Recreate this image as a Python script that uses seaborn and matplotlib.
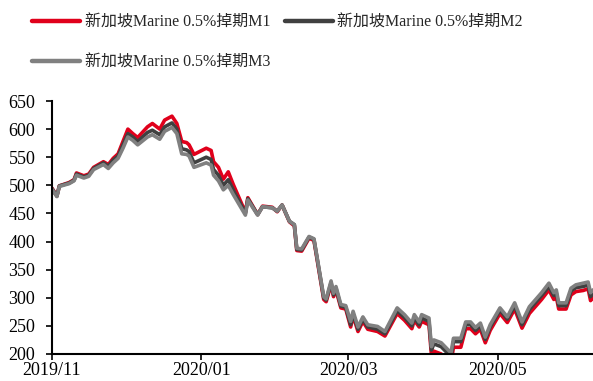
import numpy as np
import pandas as pd
import matplotlib.pyplot as plt
import matplotlib.dates as mdates
import seaborn as sns

dates = ["2019-11-01", "2019-11-03", "2019-11-04", "2019-11-08", "2019-11-10", "2019-11-11",
         "2019-11-14", "2019-11-16", "2019-11-18", "2019-11-22", "2019-11-24", "2019-11-26",
         "2019-11-28", "2019-11-30", "2019-12-02", "2019-12-04", "2019-12-06", "2019-12-10",
         "2019-12-12", "2019-12-15", "2019-12-17", "2019-12-20", "2019-12-22", "2019-12-24",
         "2019-12-26", "2019-12-27", "2019-12-29", "2020-01-03", "2020-01-05", "2020-01-06",
         "2020-01-08", "2020-01-10", "2020-01-12", "2020-01-14", "2020-01-19", "2020-01-20",
         "2020-01-24", "2020-01-26", "2020-01-30", "2020-02-01", "2020-02-03", "2020-02-06",
         "2020-02-08", "2020-02-09", "2020-02-11", "2020-02-14", "2020-02-16", "2020-02-20",
         "2020-02-21", "2020-02-23", "2020-02-24", "2020-02-25", "2020-02-27", "2020-02-29",
         "2020-03-02", "2020-03-03", "2020-03-05", "2020-03-07", "2020-03-09", "2020-03-13",
         "2020-03-16", "2020-03-21", "2020-03-24", "2020-03-27", "2020-03-28", "2020-03-30",
         "2020-03-31", "2020-04-03", "2020-04-04", "2020-04-05", "2020-04-08", "2020-04-10",
         "2020-04-12", "2020-04-13", "2020-04-16", "2020-04-18", "2020-04-20", "2020-04-22",
         "2020-04-24", "2020-04-26", "2020-04-28", "2020-05-02", "2020-05-05", "2020-05-08",
         "2020-05-11", "2020-05-14", "2020-05-19", "2020-05-22", "2020-05-24", "2020-05-25",
         "2020-05-26", "2020-05-29", "2020-05-31", "2020-06-02", "2020-06-05", "2020-06-07",
         "2020-06-08", "2020-06-09"]

m1 = [495, 481, 499, 505, 510, 522, 517, 520, 532, 542, 537, 548,
      556, 578, 600, 592, 585, 604, 610, 600, 616, 623, 610, 578,
      576, 572, 555, 566, 562, 542, 532, 511, 524, 502, 452, 478,
      448, 463, 461, 453, 465, 435, 428, 384, 383, 406, 402, 297,
      293, 324, 302, 314, 282, 280, 248, 268, 240, 258, 244, 240,
      232, 272, 260, 245, 260, 248, 258, 252, 198, 205, 200, 190,
      185, 212, 212, 245, 245, 236, 244, 220, 242, 272, 256, 280,
      246, 272, 297, 314, 297, 302, 280, 280, 305, 311, 313, 316,
      295, 300]
m2 = [494, 481, 499, 504, 509, 520, 515, 518, 530, 540, 534, 545,
      552, 572, 592, 586, 578, 594, 598, 590, 604, 611, 600, 565,
      563, 560, 540, 550, 546, 528, 518, 500, 510, 492, 450, 476,
      448, 462, 460, 454, 465, 436, 430, 386, 385, 408, 404, 300,
      296, 327, 305, 317, 285, 283, 252, 272, 244, 262, 248, 244,
      236, 277, 265, 250, 265, 252, 264, 258, 207, 218, 213, 204,
      196, 222, 222, 252, 252, 242, 250, 226, 248, 278, 262, 286,
      252, 279, 304, 320, 304, 309, 286, 286, 312, 318, 320, 323,
      302, 308]
m3 = [493, 480, 498, 503, 508, 518, 513, 516, 528, 537, 530, 540,
      548, 566, 586, 580, 572, 586, 590, 582, 596, 603, 592, 556,
      555, 552, 532, 540, 536, 518, 508, 492, 500, 484, 447, 474,
      447, 462, 460, 454, 465, 436, 430, 388, 387, 409, 405, 302,
      298, 330, 308, 320, 288, 286, 258, 276, 248, 266, 252, 249,
      240, 282, 270, 255, 270, 257, 270, 264, 213, 225, 220, 211,
      202, 228, 228, 257, 257, 247, 255, 230, 252, 282, 266, 291,
      257, 284, 309, 326, 309, 314, 291, 291, 317, 323, 326, 328,
      309, 314]

names = ["新加坡Marine 0.5%掉期M1", "新加坡Marine 0.5%掉期M2", "新加坡Marine 0.5%掉期M3"]
colors = ["#e0001b", "#404040", "#808080"]

df = pd.DataFrame({"date": pd.to_datetime(dates), names[0]: m1, names[1]: m2, names[2]: m3})
long = df.melt(id_vars="date", var_name="series", value_name="value")

sns.set_style("white")
plt.rcParams['font.family'] = ['Liberation Serif', 'Noto Sans CJK SC', 'DejaVu Sans']

fig = plt.figure(figsize=(5.93, 3.81), dpi=100)
ax = fig.add_axes([52/593, 1 - 354/381, 1 - 52/593, 253/381])

sns.lineplot(data=long, x="date", y="value", hue="series", hue_order=names,
             palette=colors, linewidth=2.6, ax=ax, legend=False)

ax.set_ylim(200, 650)
ax.set_yticks(range(200, 651, 50))
ax.set_xlim(pd.Timestamp("2019-11-01"), pd.Timestamp("2020-06-09"))
ax.set_xticks(pd.to_datetime(["2019-11-01", "2020-01-01", "2020-03-01", "2020-05-01"]))
ax.xaxis.set_major_formatter(mdates.DateFormatter("%Y/%m"))
ax.set_xlabel("")
ax.set_ylabel("")

for s in ["top", "right"]:
    ax.spines[s].set_visible(False)
for s in ["left", "bottom"]:
    ax.spines[s].set_color("black")
    ax.spines[s].set_linewidth(1.5)
ax.tick_params(axis="both", direction="out", length=4, width=1.2, color="black",
               labelsize=13, labelcolor="black", left=True, bottom=True)
ax.tick_params(axis="y", pad=8)
ax.tick_params(axis="x", pad=1.5)

# row-major order: M1, M2 on the first row, M3 below
order = [0, 2, 1]
handles = [plt.Line2D([], [], color=colors[i], linewidth=3.2) for i in order]
fig.legend(handles, [names[i] for i in order], loc="upper left",
           bbox_to_anchor=(32/593, 1 - 15/381),
           ncol=2, frameon=False, fontsize=11.5, handlelength=3.0, handletextpad=0.3,
           columnspacing=0.9, labelspacing=1.5, borderpad=0, borderaxespad=0)

fig.savefig("out.png", dpi=100)
